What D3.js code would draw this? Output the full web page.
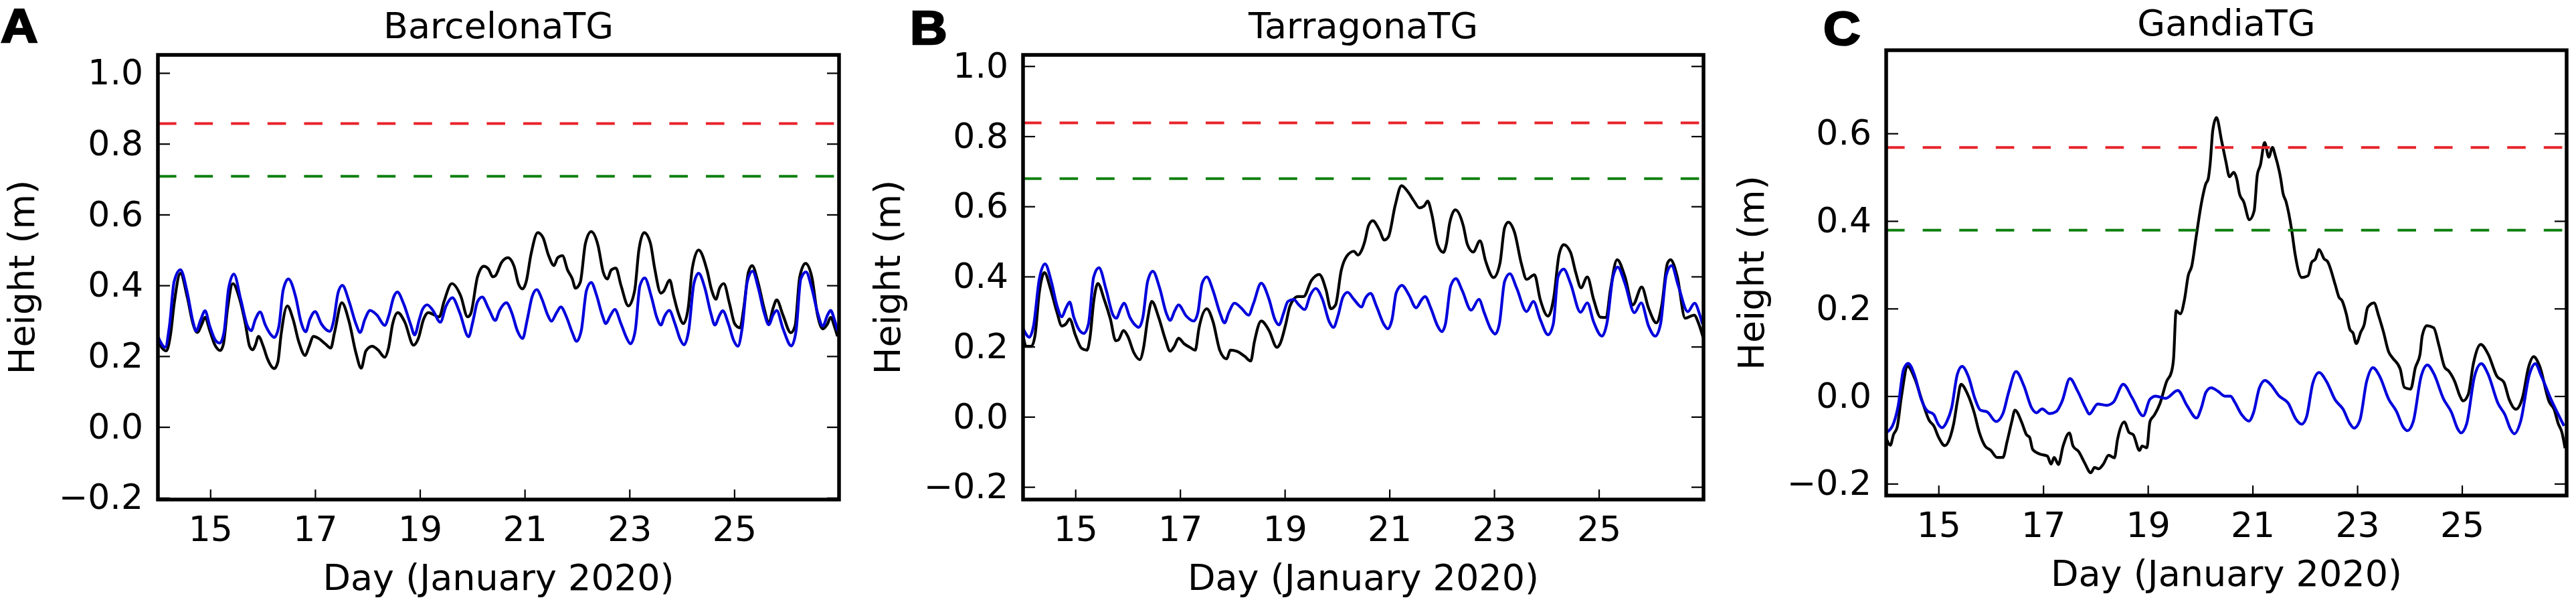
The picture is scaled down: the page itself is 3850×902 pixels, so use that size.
<!DOCTYPE html>
<html>
<head>
<meta charset="utf-8">
<script src="https://cdn.jsdelivr.net/npm/d3@7"></script>
<style>
  html, body { margin: 0; background: #fff; }
  text { font-family: "DejaVu Sans", sans-serif; fill: #000; }
  .letter { font-family: "Liberation Sans", sans-serif; font-weight: bold; stroke: #000; stroke-width: 2.5; }
</style>
</head>
<body>
<svg width="3850" height="902"></svg>
<script>
// day ticks, same for all panels
const dayTicks = [15, 17, 19, 21, 23, 25];

const barcelonaObserved = [[14,.244],[14.07,.225],[14.16,.215],[14.24,.26],[14.31,.348],[14.43,.434],[14.56,.367],[14.67,.291],[14.75,.267],[14.84,.291],[14.9,.31],[14.99,.272],[15.09,.231],[15.19,.216],[15.25,.234],[15.33,.335],[15.43,.405],[15.56,.361],[15.67,.291],[15.75,.228],[15.81,.218],[15.86,.231],[15.92,.256],[16.01,.228],[16.09,.193],[16.22,.165],[16.29,.184],[16.35,.26],[16.47,.342],[16.58,.304],[16.69,.24],[16.81,.202],[16.88,.225],[16.97,.256],[17.07,.25],[17.2,.234],[17.3,.223],[17.37,.266],[17.51,.351],[17.65,.297],[17.78,.209],[17.88,.166],[17.97,.215],[18.09,.228],[18.2,.218],[18.33,.197],[18.4,.222],[18.48,.291],[18.58,.323],[18.71,.297],[18.88,.231],[18.97,.25],[19.07,.304],[19.16,.323],[19.37,.311],[19.46,.354],[19.61,.405],[19.78,.37],[19.91,.311],[19.97,.32],[20.1,.424],[20.22,.454],[20.31,.446],[20.39,.424],[20.44,.427],[20.56,.465],[20.68,.478],[20.8,.453],[20.88,.405],[20.96,.39],[21.03,.411],[21.12,.487],[21.25,.549],[21.35,.535],[21.45,.487],[21.56,.456],[21.63,.478],[21.72,.484],[21.82,.443],[21.91,.418],[21.97,.392],[22.06,.408],[22.16,.519],[22.27,.552],[22.4,.513],[22.5,.437],[22.58,.418],[22.65,.443],[22.74,.449],[22.84,.399],[22.98,.342],[23.1,.386],[23.18,.5],[23.28,.549],[23.4,.519],[23.48,.449],[23.6,.378],[23.65,.383],[23.77,.415],[23.84,.373],[23.93,.323],[24.03,.292],[24.12,.335],[24.2,.449],[24.32,.5],[24.48,.443],[24.57,.386],[24.65,.361],[24.72,.392],[24.8,.405],[24.91,.348],[25.01,.291],[25.11,.28],[25.18,.335],[25.27,.437],[25.34,.456],[25.46,.405],[25.57,.335],[25.66,.294],[25.74,.335],[25.81,.359],[25.93,.316],[26.08,.266],[26.16,.285],[26.25,.424],[26.36,.462],[26.48,.424],[26.59,.316],[26.69,.277],[26.78,.291],[26.84,.31],[26.91,.285],[26.97,.256]];
const barcelonaTide = [[14,.256],[14.14,.225],[14.22,.285],[14.31,.411],[14.43,.444],[14.56,.38],[14.67,.297],[14.73,.271],[14.82,.304],[14.9,.328],[14.99,.285],[15.09,.247],[15.18,.237],[15.26,.266],[15.35,.392],[15.45,.432],[15.58,.361],[15.71,.285],[15.78,.272],[15.86,.304],[15.95,.325],[16.05,.288],[16.16,.26],[16.22,.253],[16.31,.285],[16.39,.386],[16.49,.418],[16.63,.367],[16.73,.297],[16.82,.269],[16.9,.304],[17,.326],[17.12,.291],[17.28,.27],[17.35,.297],[17.44,.38],[17.52,.4],[17.65,.354],[17.78,.291],[17.86,.267],[17.95,.304],[18.05,.329],[18.18,.316],[18.33,.287],[18.41,.316],[18.5,.367],[18.57,.381],[18.69,.348],[18.82,.291],[18.9,.26],[18.99,.304],[19.05,.332],[19.14,.345],[19.25,.329],[19.39,.296],[19.5,.342],[19.62,.365],[19.76,.323],[19.93,.255],[20.01,.297],[20.1,.354],[20.19,.367],[20.31,.335],[20.44,.301],[20.52,.329],[20.65,.351],[20.76,.32],[20.86,.272],[20.96,.25],[21.05,.304],[21.14,.367],[21.23,.388],[21.33,.361],[21.44,.316],[21.51,.299],[21.61,.323],[21.69,.339],[21.8,.31],[21.91,.266],[21.99,.242],[22.08,.272],[22.18,.386],[22.27,.408],[22.37,.373],[22.48,.316],[22.55,.292],[22.63,.313],[22.72,.332],[22.84,.291],[22.95,.25],[23.02,.235],[23.11,.272],[23.2,.399],[23.29,.421],[23.42,.367],[23.52,.31],[23.6,.288],[23.67,.313],[23.76,.329],[23.87,.291],[23.97,.247],[24.04,.232],[24.13,.272],[24.23,.405],[24.32,.434],[24.44,.392],[24.55,.323],[24.63,.288],[24.72,.316],[24.78,.328],[24.89,.291],[24.99,.244],[25.07,.228],[25.15,.278],[25.25,.411],[25.35,.44],[25.46,.392],[25.57,.323],[25.66,.289],[25.74,.316],[25.81,.329],[25.93,.278],[26.09,.229],[26.18,.272],[26.27,.418],[26.37,.438],[26.48,.392],[26.59,.323],[26.69,.285],[26.78,.316],[26.84,.329],[26.91,.304],[26.97,.272]];

const tarragonaObserved = [[14,.233],[14.06,.201],[14.16,.201],[14.23,.233],[14.31,.354],[14.41,.411],[14.52,.367],[14.65,.297],[14.74,.259],[14.82,.265],[14.89,.279],[15,.233],[15.12,.195],[15.22,.19],[15.28,.227],[15.35,.329],[15.43,.38],[15.55,.335],[15.67,.278],[15.77,.217],[15.82,.219],[15.92,.246],[16,.23],[16.12,.182],[16.23,.163],[16.3,.195],[16.38,.278],[16.46,.329],[16.59,.284],[16.72,.22],[16.81,.187],[16.89,.201],[16.97,.224],[17.08,.208],[17.19,.198],[17.29,.19],[17.36,.252],[17.51,.308],[17.63,.271],[17.76,.189],[17.89,.165],[17.96,.19],[18.08,.187],[18.23,.173],[18.35,.159],[18.42,.214],[18.55,.273],[18.7,.246],[18.85,.198],[18.91,.208],[19.02,.265],[19.1,.316],[19.25,.343],[19.36,.343],[19.51,.389],[19.66,.406],[19.79,.361],[19.88,.308],[19.97,.319],[20.08,.418],[20.19,.459],[20.32,.472],[20.4,.461],[20.47,.475],[20.53,.501],[20.6,.545],[20.68,.559],[20.81,.532],[20.9,.504],[20.98,.513],[21.11,.603],[21.23,.659],[21.37,.638],[21.47,.615],[21.57,.596],[21.66,.601],[21.73,.615],[21.81,.577],[21.92,.491],[22.03,.469],[22.09,.494],[22.15,.552],[22.26,.59],[22.41,.545],[22.49,.491],[22.6,.47],[22.73,.502],[22.84,.443],[22.99,.397],[23.11,.437],[23.2,.539],[23.27,.555],[23.39,.526],[23.52,.437],[23.62,.392],[23.77,.405],[23.88,.335],[24.03,.287],[24.14,.341],[24.24,.462],[24.33,.491],[24.46,.469],[24.56,.411],[24.66,.368],[24.78,.399],[24.9,.335],[25.03,.284],[25.14,.283],[25.22,.361],[25.35,.448],[25.5,.399],[25.65,.319],[25.82,.37],[25.95,.31],[26.1,.268],[26.2,.316],[26.31,.437],[26.37,.448],[26.5,.399],[26.65,.281],[26.82,.29],[26.91,.265],[26.99,.227]];
const tarragonaTide = [[14,.252],[14.12,.227],[14.2,.259],[14.31,.392],[14.42,.436],[14.54,.386],[14.65,.316],[14.74,.285],[14.82,.31],[14.89,.327],[14.97,.284],[15.08,.246],[15.16,.238],[15.25,.265],[15.35,.399],[15.45,.425],[15.59,.361],[15.72,.29],[15.78,.281],[15.87,.31],[15.93,.324],[16.04,.284],[16.14,.262],[16.21,.255],[16.29,.284],[16.38,.386],[16.48,.415],[16.61,.367],[16.74,.294],[16.81,.275],[16.9,.303],[16.97,.319],[17.12,.287],[17.26,.273],[17.34,.297],[17.42,.38],[17.51,.399],[17.63,.36],[17.76,.297],[17.85,.268],[17.93,.297],[18.04,.324],[18.17,.31],[18.31,.29],[18.4,.322],[18.55,.381],[18.7,.335],[18.81,.278],[18.89,.262],[18.98,.297],[19.06,.329],[19.17,.335],[19.27,.319],[19.38,.306],[19.49,.348],[19.59,.366],[19.72,.335],[19.85,.271],[19.93,.255],[20.02,.29],[20.11,.341],[20.2,.355],[20.32,.335],[20.47,.313],[20.53,.335],[20.64,.352],[20.75,.316],[20.9,.262],[20.97,.251],[21.05,.278],[21.13,.354],[21.24,.375],[21.37,.348],[21.51,.311],[21.62,.335],[21.68,.343],[21.79,.31],[21.92,.259],[22,.243],[22.07,.265],[22.17,.373],[22.27,.394],[22.39,.36],[22.56,.304],[22.71,.335],[22.81,.297],[22.94,.249],[23.02,.236],[23.1,.265],[23.2,.386],[23.3,.408],[23.43,.367],[23.62,.3],[23.75,.329],[23.88,.278],[24.03,.234],[24.13,.265],[24.22,.399],[24.33,.421],[24.46,.38],[24.65,.298],[24.78,.325],[24.9,.271],[25.06,.23],[25.16,.271],[25.27,.399],[25.36,.427],[25.5,.38],[25.68,.297],[25.81,.325],[25.95,.259],[26.08,.23],[26.18,.265],[26.29,.405],[26.39,.431],[26.52,.373],[26.7,.3],[26.83,.324],[26.93,.29],[26.98,.265]];

const gandiaObserved = [[14,-.096],[14.08,-.112],[14.14,-.088],[14.21,-.071],[14.29,-.002],[14.41,.068],[14.55,.039],[14.69,-.012],[14.82,-.055],[14.91,-.068],[15.01,-.096],[15.12,-.113],[15.23,-.091],[15.29,-.063],[15.36,-.012],[15.43,.027],[15.55,.006],[15.68,-.037],[15.78,-.083],[15.89,-.114],[16,-.124],[16.12,-.14],[16.23,-.14],[16.31,-.104],[16.4,-.058],[16.46,-.032],[16.59,-.06],[16.68,-.088],[16.74,-.094],[16.8,-.122],[16.93,-.132],[17.08,-.137],[17.15,-.155],[17.21,-.14],[17.29,-.156],[17.38,-.114],[17.5,-.084],[17.57,-.114],[17.68,-.127],[17.79,-.152],[17.91,-.175],[17.98,-.163],[18.06,-.166],[18.15,-.155],[18.25,-.135],[18.36,-.141],[18.42,-.099],[18.55,-.059],[18.64,-.083],[18.72,-.088],[18.84,-.124],[18.89,-.114],[18.98,-.118],[19.04,-.058],[19.13,-.042],[19.23,-.017],[19.36,.034],[19.45,.055],[19.49,.085],[19.54,.195],[19.62,.188],[19.7,.221],[19.77,.275],[19.84,.298],[19.92,.362],[20.02,.439],[20.11,.486],[20.15,.495],[20.19,.531],[20.24,.607],[20.31,.636],[20.41,.582],[20.49,.536],[20.56,.501],[20.64,.511],[20.7,.495],[20.75,.462],[20.83,.444],[20.94,.403],[21.03,.423],[21.09,.505],[21.15,.528],[21.23,.579],[21.31,.546],[21.38,.568],[21.43,.551],[21.54,.495],[21.58,.464],[21.64,.444],[21.75,.377],[21.81,.326],[21.94,.271],[22.06,.275],[22.13,.306],[22.2,.313],[22.27,.335],[22.37,.313],[22.43,.308],[22.58,.254],[22.65,.226],[22.71,.218],[22.79,.188],[22.86,.152],[22.92,.144],[22.98,.12],[23.07,.147],[23.13,.162],[23.2,.203],[23.32,.213],[23.41,.183],[23.5,.147],[23.6,.101],[23.67,.088],[23.82,.062],[23.9,.02],[24.02,.016],[24.11,.065],[24.2,.096],[24.24,.137],[24.33,.161],[24.46,.156],[24.56,.116],[24.67,.066],[24.75,.057],[24.86,.034],[24.97,-.002],[25.02,-.011],[25.12,.004],[25.22,.075],[25.36,.118],[25.5,.096],[25.67,.045],[25.8,.032],[25.9,-.007],[26.03,-.03],[26.16,-.002],[26.27,.065],[26.37,.09],[26.48,.07],[26.67,-.014],[26.76,-.03],[26.84,-.063],[26.91,-.083],[26.97,-.119]];
const gandiaTide = [[14,-.083],[14.12,-.068],[14.23,-.022],[14.33,.06],[14.42,.075],[14.55,.045],[14.67,-.007],[14.78,-.033],[14.91,-.042],[14.99,-.063],[15.07,-.072],[15.16,-.058],[15.25,-.027],[15.36,.05],[15.45,.068],[15.57,.045],[15.7,-.007],[15.8,-.032],[15.93,-.036],[16.1,-.058],[16.23,-.04],[16.34,.009],[16.48,.056],[16.63,.024],[16.78,-.027],[16.87,-.038],[16.98,-.029],[17.12,-.04],[17.25,-.035],[17.36,-.012],[17.51,.04],[17.66,.011],[17.81,-.027],[17.88,-.041],[18.04,-.018],[18.21,-.021],[18.34,-.014],[18.53,.027],[18.7,-.004],[18.91,-.045],[19.04,-.007],[19.15,0],[19.34,-.005],[19.57,.013],[19.75,-.022],[19.93,-.05],[20.02,-.027],[20.11,.009],[20.21,.019],[20.34,.011],[20.47,0],[20.58,0],[20.66,-.014],[20.79,-.042],[20.93,-.057],[21.02,-.037],[21.13,.019],[21.24,.036],[21.34,.027],[21.51,0],[21.68,-.016],[21.83,-.053],[21.94,-.064],[22.03,-.048],[22.15,.029],[22.27,.054],[22.41,.034],[22.58,-.009],[22.73,-.03],[22.86,-.063],[22.94,-.073],[23.05,-.055],[23.18,.034],[23.3,.065],[23.43,.045],[23.6,-.007],[23.75,-.035],[23.88,-.071],[23.96,-.079],[24.07,-.058],[24.22,.045],[24.34,.071],[24.46,.052],[24.65,-.007],[24.8,-.037],[24.92,-.075],[24.98,-.084],[25.09,-.063],[25.24,.045],[25.37,.074],[25.5,.05],[25.69,-.017],[25.82,-.042],[25.93,-.076],[26,-.086],[26.12,-.058],[26.29,.05],[26.4,.074],[26.52,.045],[26.7,-.007],[26.82,-.037],[26.95,-.068]];

// red and green threshold levels
const barcelonaLevels = [0.857, 0.708];
const tarragonaLevels = [0.838, 0.679];
const gandiaLevels = [0.568, 0.379];

const barcelonaTicks = [-0.2, 0, 0.2, 0.4, 0.6, 0.8, 1.0];
const tarragonaTicks = [-0.2, 0, 0.2, 0.4, 0.6, 0.8, 1.0];
const gandiaTicks = [-0.2, 0, 0.2, 0.4, 0.6];

const panels = [
  { letter: "A", letterX: 1, letterY: 63, title: "BarcelonaTG", titleY: 57, box: [236, 82, 1254, 746], yDomain: [-0.205, 1.051],
    observed: barcelonaObserved, tide: barcelonaTide, levels: barcelonaLevels, yTicks: barcelonaTicks, labelX: 33 },
  { letter: "B", letterX: 1360, letterY: 66, title: "TarragonaTG", titleY: 57, box: [1529, 82, 2546, 746], yDomain: [-0.236, 1.032],
    observed: tarragonaObserved, tide: tarragonaTide, levels: tarragonaLevels, yTicks: tarragonaTicks, labelX: 1327 },
  { letter: "C", letterX: 2725, letterY: 67, title: "GandiaTG", titleY: 53, box: [2819, 75, 3836, 740], yDomain: [-0.227, 0.79],
    observed: gandiaObserved, tide: gandiaTide, levels: gandiaLevels, yTicks: gandiaTicks, labelX: 2618 }
];

const svg = d3.select("svg");
const levelColors = ["#e8232a", "#0f800f"];
const formatTick = d => d3.format(".1f")(d).replace("-", "\u2212");

panels.forEach((p, i) => {
  const [left, top, right, bottom] = p.box;
  const x = d3.scaleLinear().domain([14, 27]).range([left, right]);
  const y = d3.scaleLinear().domain(p.yDomain).range([bottom, top]);

  svg.append("clipPath").attr("id", "clip" + i)
    .append("rect")
    .attr("x", left).attr("y", top)
    .attr("width", right - left).attr("height", bottom - top);

  const line = d3.line()
    .x(d => x(d[0]))
    .y(d => y(d[1]))
    .curve(d3.curveMonotoneX);

  const plot = svg.append("g").attr("clip-path", "url(#clip" + i + ")");

  plot.append("path")
    .attr("d", line(p.observed))
    .attr("fill", "none").attr("stroke", "#000").attr("stroke-width", 4.2);
  plot.append("path")
    .attr("d", line(p.tide))
    .attr("fill", "none").attr("stroke", "#0000dc").attr("stroke-width", 4.2);

  p.levels.forEach((v, k) => {
    plot.append("line")
      .attr("x1", left).attr("x2", right)
      .attr("y1", y(v)).attr("y2", y(v))
      .attr("stroke", levelColors[k]).attr("stroke-width", 4)
      .attr("stroke-dasharray", "27.6 27");
  });

  // axes, ticks point inward as in matplotlib
  const xAxis = d3.axisBottom(x).tickValues(dayTicks).tickSize(-15).tickPadding(25).tickFormat(d3.format("d"));
  const yAxis = d3.axisLeft(y).tickValues(p.yTicks).tickSize(-18).tickPadding(22).tickFormat(formatTick);
  const yRight = d3.axisRight(y).tickValues(p.yTicks).tickSize(-18).tickFormat("");

  const axes = [
    svg.append("g").attr("transform", "translate(0," + bottom + ")").call(xAxis),
    svg.append("g").attr("transform", "translate(" + left + ",0)").call(yAxis),
    svg.append("g").attr("transform", "translate(" + right + ",0)").call(yRight)
  ];
  axes.forEach(a => {
    a.attr("font-family", null).attr("font-size", null);
    a.select(".domain").remove();
    a.selectAll("line").attr("stroke", "#000").attr("stroke-width", 2.2);
    a.selectAll("text").attr("font-size", 52);
  });

  svg.append("rect")
    .attr("x", left).attr("y", top)
    .attr("width", right - left).attr("height", bottom - top)
    .attr("fill", "none").attr("stroke", "#000").attr("stroke-width", 5.5);

  const mid = (left + right) / 2;
  svg.append("text").attr("x", mid).attr("y", p.titleY)
    .attr("text-anchor", "middle").attr("font-size", 54).text(p.title);
  svg.append("text").attr("x", mid).attr("y", bottom + 135)
    .attr("text-anchor", "middle").attr("font-size", 54).text("Day (January 2020)");
  svg.append("text")
    .attr("transform", "translate(" + (p.labelX + 18) + "," + (top + bottom) / 2 + ") rotate(-90)")
    .attr("text-anchor", "middle").attr("font-size", 54).text("Height (m)");
  svg.append("text").attr("class", "letter")
    .attr("transform", "translate(" + p.letterX + "," + p.letterY + ") scale(1.1,1)")
    .attr("font-size", 70).text(p.letter);
});
</script>
</body>
</html>
